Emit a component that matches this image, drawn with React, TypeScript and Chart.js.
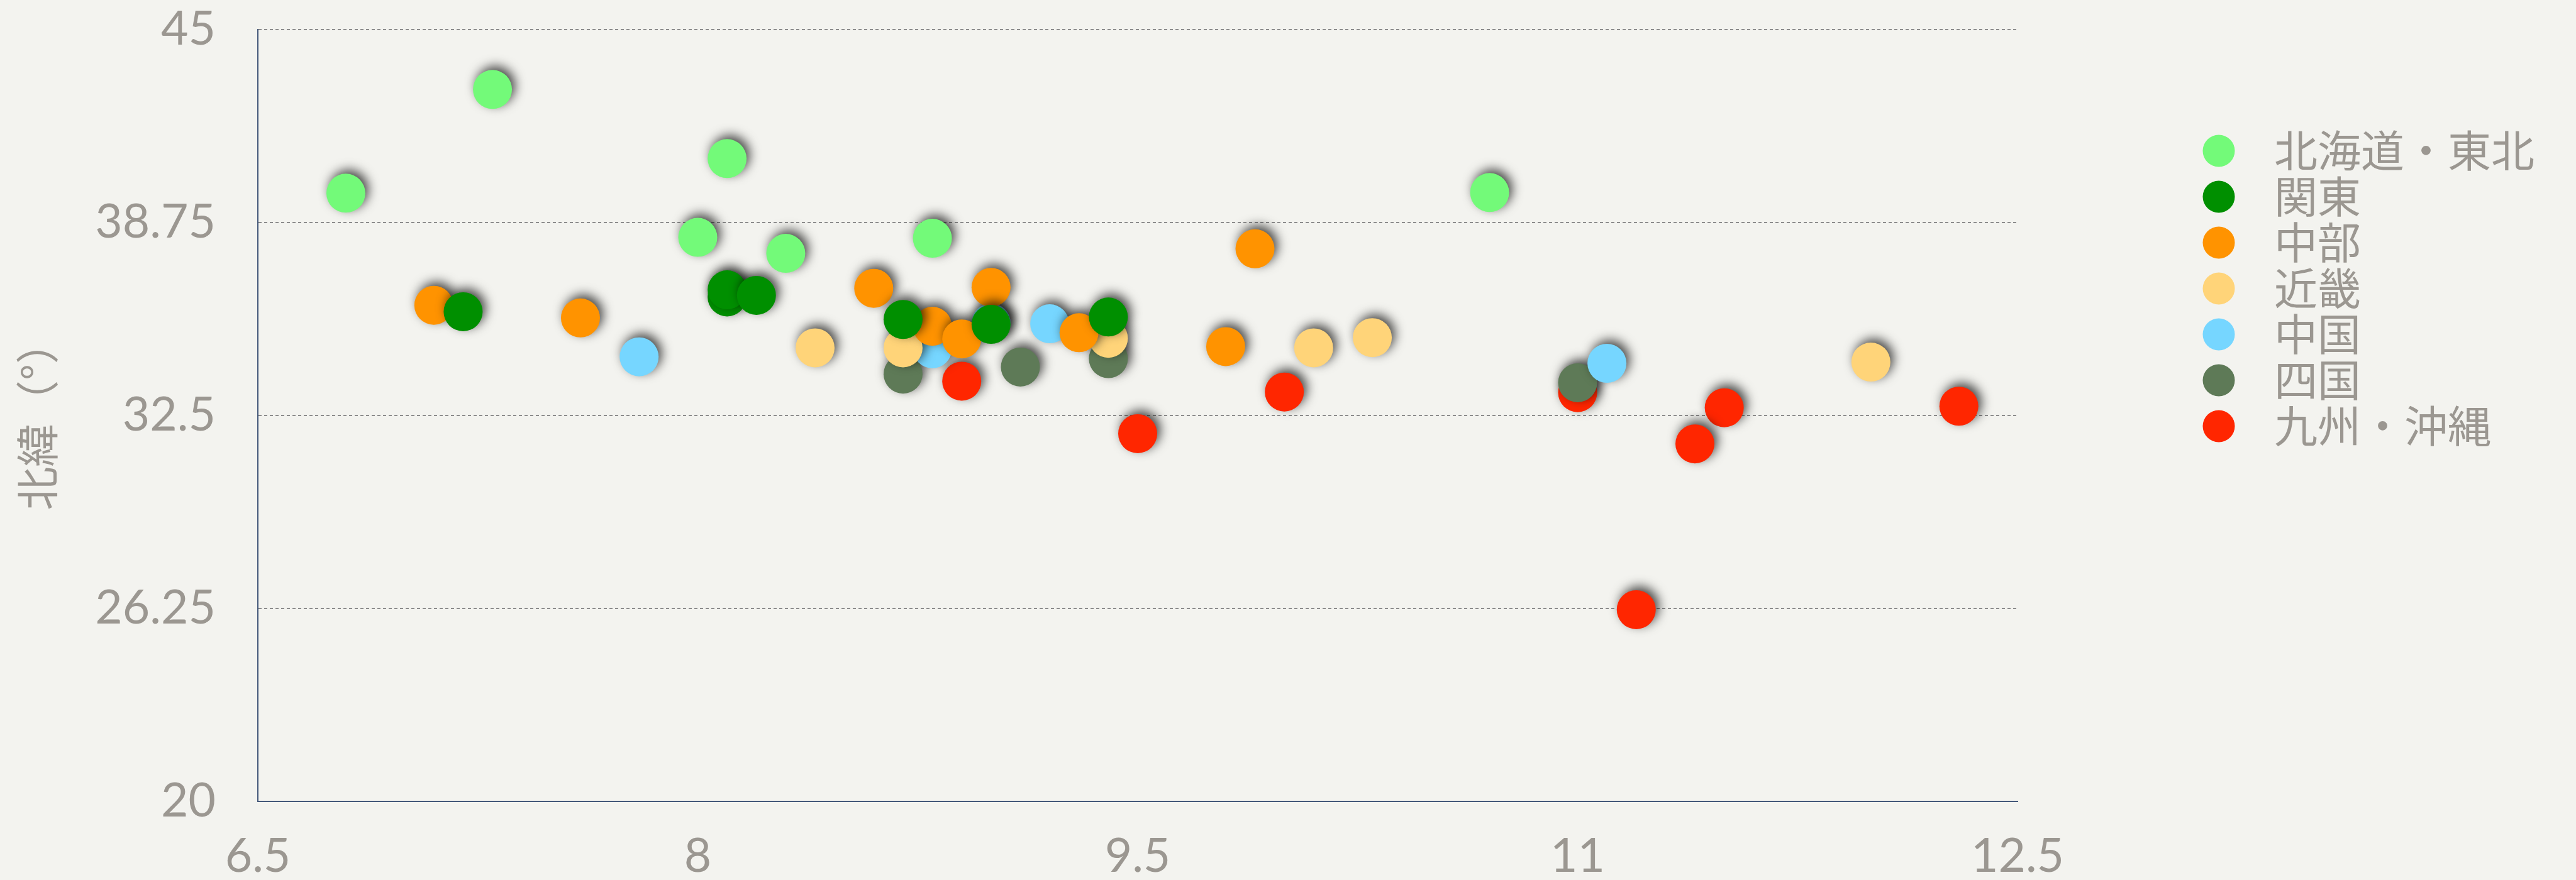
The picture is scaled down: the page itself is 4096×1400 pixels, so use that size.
import React, { useEffect, useRef } from 'react';
import { Chart, registerables } from 'chart.js';

Chart.register(...registerables);

// ---- data ----
const seriesNames = ['北海道・東北', '関東', '中部', '近畿', '中国', '四国', '九州・沖縄'];
const seriesColors = ['#73fa79', '#008f00', '#ff9300', '#ffd479', '#76d6ff', '#5e7a57', '#ff2600'];

const hokkaidoTohokuX = [6.8, 7.3, 8.1, 8.0, 8.3, 8.8, 10.7];
const hokkaidoTohokuY = [39.7, 43.06, 40.82, 38.27, 37.75, 38.24, 39.72];

const kantoX = [7.2, 8.1, 8.1, 8.2, 8.7, 9.0, 9.4];
const kantoY = [35.86, 36.34, 36.57, 36.39, 35.61, 35.45, 35.69];

const chubuX = [7.1, 7.6, 8.6, 9.0, 8.8, 8.9, 9.3, 9.9, 9.8];
const chubuY = [36.07, 35.66, 36.62, 36.65, 35.39, 34.98, 35.18, 37.9, 34.73];

const kinkiX = [8.4, 8.7, 9.4, 10.1, 10.3, 12.0];
const kinkiY = [34.69, 34.69, 35.0, 34.69, 35.02, 34.23];

const chugokuX = [7.8, 8.8, 9.0, 9.2, 11.1];
const chugokuY = [34.4, 34.66, 35.5, 35.47, 34.19];

const shikokuX = [8.7, 9.1, 9.4, 11.0];
const shikokuY = [33.84, 34.07, 34.34, 33.56];

const kyushuX = [8.9, 9.5, 10.0, 11.0, 11.5, 11.4, 12.3, 11.2];
const kyushuY = [33.61, 31.91, 33.26, 33.24, 32.75, 31.58, 32.8, 26.21];

const xTickValues = [6.5, 8, 9.5, 11, 12.5];
const xTickLabels = ['6.5', '8', '9.5', '11', '12.5'];
const yTickValues = [20, 26.25, 32.5, 38.75, 45];
const yTickLabels = ['20', '26.25', '32.5', '38.75', '45'];
const yAxisTitle = '北緯（°）';

const seriesX = [hokkaidoTohokuX, kantoX, chubuX, kinkiX, chugokuX, shikokuX, kyushuX];
const seriesY = [hokkaidoTohokuY, kantoY, chubuY, kinkiY, chugokuY, shikokuY, kyushuY];

// ---- styling ----
const W = 4096;
const H = 1400;
const TEXT = '#9b9791';
const AXIS = '#44587a';
const BG = '#f3f3ef';
const TICK_FONT = 'Lato, "Open Sans", sans-serif';
const CJK_FONT = '"Noto Sans CJK JP", "Noto Sans", sans-serif';

const shadowPlugin = {
  id: 'pointShadow',
  beforeDatasetsDraw(chart: any) {
    const ctx = chart.ctx;
    ctx.save();
    ctx.shadowColor = 'rgba(0,0,0,0.72)';
    ctx.shadowBlur = 17;
    ctx.shadowOffsetX = 5;
    ctx.shadowOffsetY = -6;
  },
  afterDatasetsDraw(chart: any) {
    chart.ctx.restore();
  },
};

const sideLegendPlugin = {
  id: 'sideLegend',
  afterDraw(chart: any) {
    const ctx = chart.ctx;
    ctx.save();
    ctx.font = `69px ${CJK_FONT}`;
    ctx.textBaseline = 'middle';
    ctx.textAlign = 'left';
    chart.data.datasets.forEach((ds: any, i: number) => {
      const y = 240 + i * 73;
      ctx.fillStyle = ds.backgroundColor;
      ctx.beginPath();
      ctx.arc(3528, y, 25.5, 0, Math.PI * 2);
      ctx.fill();
      ctx.fillStyle = TEXT;
      ctx.fillText(ds.label, 3616, y);
    });
    ctx.restore();
  },
};

export default function App() {
  const ref = useRef<HTMLCanvasElement | null>(null);

  useEffect(() => {
    document.body.style.margin = '0';
    document.body.style.overflow = 'hidden';
    document.body.style.background = BG;
    const canvas = ref.current;
    if (!canvas) return;

    const datasets = seriesNames.map((name, i) => ({
      label: name,
      data: seriesX[i].map((x, j) => ({ x, y: seriesY[i][j] })),
      backgroundColor: seriesColors[i],
      borderColor: seriesColors[i],
      borderWidth: 0,
      pointRadius: 31,
      pointHoverRadius: 31,
      pointBorderWidth: 0,
    }));

    const chart = new Chart(canvas, {
      type: 'scatter',
      data: { datasets },
      plugins: [shadowPlugin, sideLegendPlugin],
      options: {
        animation: false,
        responsive: false,
        devicePixelRatio: 1,
        layout: { padding: { left: 0, top: 47, right: 888, bottom: 0 } },
        plugins: {
          legend: { display: false },
          tooltip: { enabled: false },
          title: { display: false },
        },
        scales: {
          x: {
            type: 'linear',
            position: 'bottom',
            min: 6.5,
            max: 12.5,
            afterBuildTicks: (s: any) => {
              s.ticks = xTickValues.map((v) => ({ value: v }));
            },
            afterFit: (s: any) => {
              s.height = 125;
              s.paddingLeft = 0;
              s.paddingRight = 0;
            },
            ticks: {
              autoSkip: false,
              maxRotation: 0,
              padding: 43,
              color: TEXT,
              font: { family: TICK_FONT, size: 75 },
              callback: (v: any) => {
                const k = xTickValues.indexOf(Number(v));
                return k >= 0 ? xTickLabels[k] : '';
              },
            },
            grid: { display: false, drawTicks: false },
            border: { display: true, color: AXIS, width: 2 },
          },
          y: {
            type: 'linear',
            position: 'left',
            min: 20,
            max: 45,
            afterBuildTicks: (s: any) => {
              s.ticks = yTickValues.map((v) => ({ value: v }));
            },
            afterFit: (s: any) => {
              s.width = 410;
              s.paddingTop = 0;
              s.paddingBottom = 0;
            },
            ticks: {
              padding: 67,
              color: TEXT,
              font: { family: TICK_FONT, size: 75 },
              callback: (v: any) => {
                const k = yTickValues.indexOf(Number(v));
                return k >= 0 ? yTickLabels[k] : '';
              },
            },
            grid: { display: true, drawTicks: false, color: 'rgba(130,130,130,0.9)', lineWidth: 2 },
            border: { display: true, color: AXIS, width: 2, dash: [5, 4] },
            title: {
              display: true,
              text: yAxisTitle,
              color: TEXT,
              font: { family: CJK_FONT, size: 69 },
              padding: { top: 18, bottom: 0 },
            },
          },
        },
      } as any,
    });

    return () => chart.destroy();
  }, []);

  return (
    <div style={{ width: W, height: H, background: BG, overflow: 'hidden' }}>
      <canvas ref={ref} width={W} height={H} style={{ display: 'block', width: W, height: H }} />
    </div>
  );
}
